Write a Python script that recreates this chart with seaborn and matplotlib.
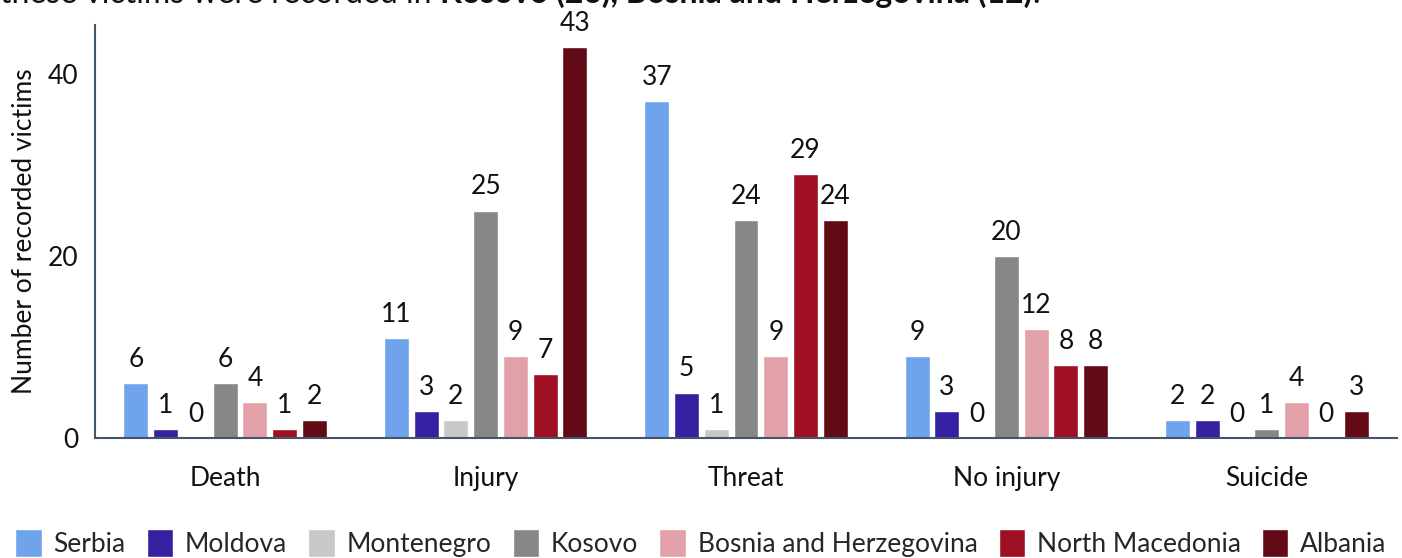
import numpy as np
import matplotlib
matplotlib.use("Agg")
import matplotlib.pyplot as plt
import pandas as pd
import seaborn as sns

categories = ["Death", "Injury", "Threat", "No injury", "Suicide"]
countries = ["Serbia", "Moldova", "Montenegro", "Kosovo",
             "Bosnia and Herzegovina", "North Macedonia", "Albania"]
serbia = [6, 11, 37, 9, 2]
moldova = [1, 3, 5, 3, 2]
montenegro = [0, 2, 1, 0, 0]
kosovo = [6, 25, 24, 20, 1]
bosnia = [4, 9, 9, 12, 4]
north_macedonia = [1, 7, 29, 8, 0]
albania = [2, 43, 24, 8, 3]
colors = ["#6fa3ec", "#3321a1", "#c8c8c8", "#878787",
          "#e2a1a8", "#9e0f22", "#620a16"]

values = [serbia, moldova, montenegro, kosovo, bosnia, north_macedonia, albania]
rows = []
for c, vals in zip(countries, values):
    for cat, v in zip(categories, vals):
        rows.append({"category": cat, "country": c, "victims": v})
df = pd.DataFrame(rows)

sns.set_style("white")
plt.rcParams["font.family"] = ["Lato", "DejaVu Sans"]
txt = "#111111"
fs = 19

fig = plt.figure(figsize=(14.02, 5.58), dpi=100)
ax = fig.add_axes([95 / 1402, 1 - 438 / 558, 1302 / 1402, 413 / 558])

sns.barplot(data=df, x="category", y="victims", hue="country",
            hue_order=countries, order=categories, palette=colors,
            saturation=1, width=0.8, gap=0.16, ax=ax, legend=True)

for cont in ax.containers:
    ax.bar_label(cont, padding=8, fontsize=fs, color=txt)

ax.set_ylim(0, 45.4)
ax.set_xlim(-0.5, 4.5)
ax.set_yticks([0, 20, 40])
ax.tick_params(axis="both", length=0, labelsize=fs, colors=txt)
ax.tick_params(axis="x", pad=20)
ax.tick_params(axis="y", pad=12)
ax.set_xlabel("")
ax.set_ylabel("Number of recorded victims", fontsize=fs, color=txt)
ax.yaxis.set_label_coords(-58 / 1302, 0.5)
for s in ["top", "right"]:
    ax.spines[s].set_visible(False)
for s in ["left", "bottom"]:
    ax.spines[s].set_color("#44546a")
    ax.spines[s].set_linewidth(1.5)

handles, labels = ax.get_legend_handles_labels()
ax.legend_.remove()
fig.legend(handles, labels, loc="center", bbox_to_anchor=(0.5, 1 - 543 / 558),
           ncol=7, frameon=False, fontsize=fs, handlelength=1.0,
           handleheight=1.25, columnspacing=0.8, handletextpad=0.45,
           borderaxespad=0, borderpad=0)

# caption line above the chart, cut off by the top edge as in the source
renderer = fig.canvas.get_renderer()
x = 0.0
y = 1 - 3 / 558
for piece, weight in [("these victims were recorded in ", "normal"),
                      ("Kosovo (26), Bosnia and Herzegovina (12)", "bold"),
                      (".", "normal")]:
    t = fig.text(x, y, piece, fontsize=23, fontweight=weight, color=txt,
                 va="baseline", ha="left")
    bb = t.get_window_extent(renderer)
    x = bb.x1 / fig.bbox.width

fig.savefig("out.png", dpi=100)
